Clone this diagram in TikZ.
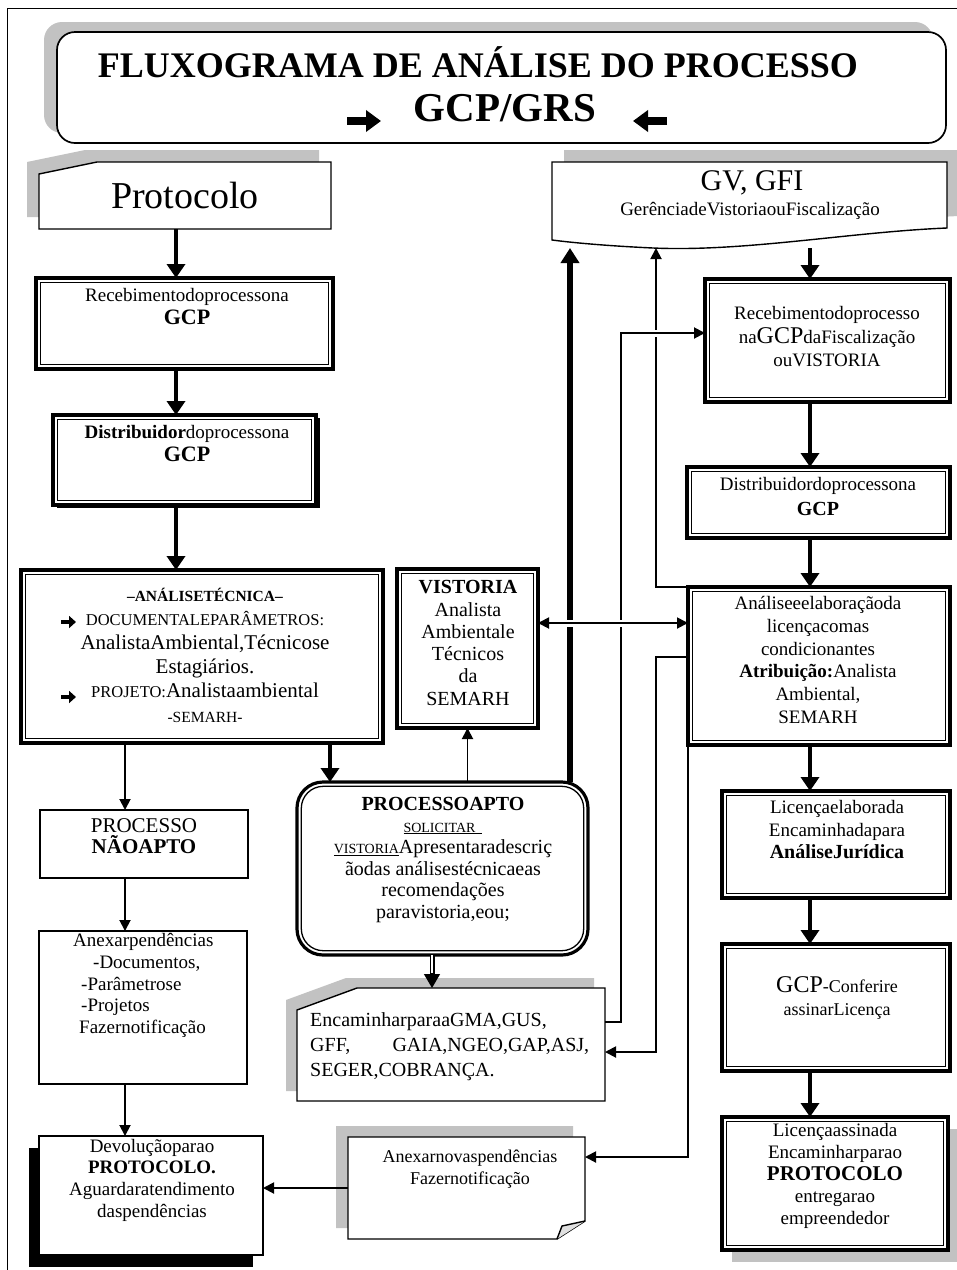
\documentclass[tikz,border=0pt]{standalone}
\usepackage{fontspec}
\setmainfont{Liberation Serif}
\usetikzlibrary{positioning,calc,arrows.meta,shadows}
\definecolor{shade}{gray}{0.76}
\tikzset{
  area/.style    = {inner sep=0pt, outer sep=0pt},
  card/.style    = {line width=1.4pt, fill=white},
  tbox/.style    = {draw, line width=1.7pt, fill=white, rounded corners=18pt,
                    inner sep=0pt, outer sep=0pt},
  sbox/.style    = {draw, line width=1.7pt, fill=white, inner sep=0pt, outer sep=0pt},
  dbox/.style    = {draw, line width=3.2pt, fill=white, inner sep=0pt, outer sep=0pt,
                    path picture={\draw[line width=1.3pt]
                      ([shift={(4.3pt,-4.3pt)}]path picture bounding box.north west) rectangle
                      ([shift={(-4.3pt,4.3pt)}]path picture bounding box.south east);}},
  rbox/.style    = {draw, line width=3.2pt, fill=white, inner sep=0pt, outer sep=0pt,
                    rounded corners=26pt,
                    path picture={\draw[line width=1.3pt, rounded corners=22pt]
                      ([shift={(4.3pt,-4.3pt)}]path picture bounding box.north west) rectangle
                      ([shift={(-4.3pt,4.3pt)}]path picture bounding box.south east);}},
  shd/.style 2 args  = {drop shadow={shadow xshift=#1, shadow yshift=#2,
                        fill=shade, opacity=1}},
  bshd/.style 2 args = {drop shadow={shadow xshift=#1, shadow yshift=#2,
                        fill=black, opacity=1}},
  txt/.style     = {align=center, inner sep=0pt, font=\fontsize{19}{23}\selectfont},
  thk/.style     = {line width=4.6pt, >={Triangle[length=14pt,width=18pt]}, ->},
  thn/.style     = {line width=1.9pt, >={Triangle[length=11pt,width=11pt]}, ->},
  both/.style    = {line width=1.9pt, >={Triangle[length=11pt,width=11pt]}, <->},
  bar/.style     = {line width=5.6pt, >={Triangle[length=15pt,width=18pt]}, ->},
  dbl/.style     = {double, double distance=2.4pt, line width=1.3pt},
  tipo/.style    = {line width=1.3pt, >={Triangle[length=14pt,width=16pt]}, ->},
  hop/.style     = {preaction={draw=white, line width=7pt, -, shorten <=3pt, shorten >=3pt}},
  fat/.style     = {line width=8pt, >={Triangle[length=15pt,width=21pt]}, ->},
  sarr/.style    = {line width=3.4pt, >={Triangle[length=7pt,width=12pt]}, ->},
}

\begin{document}
\begin{tikzpicture}[x=1pt, y=-1pt]
  \useasboundingbox (0,0) rectangle (957,1270);
  \draw[line width=1.6pt] (7.5,1270) -- (7.5,8.5) -- (957,8.5);

  % heading
  \node[tbox, shd={-13pt}{10pt}, minimum width=889pt, minimum height=111pt] (ttl) at (501.5,87.5) {};
  \node[anchor=base, font=\fontsize{36}{40}\selectfont\bfseries] (ttl-a) at (478,77) {FLUXOGRAMA DE ANÁLISE DO PROCESSO};
  \node[anchor=base, font=\fontsize{41}{44}\selectfont\bfseries] (ttl-b) at (505,121) {GCP/GRS};
  \draw[fat] (347,121) -- (381,121);
  \draw[fat] (667,121) -- (633,121);

  % left column
  \filldraw[card, shd={-12pt}{12pt}] (39,174) -- (97,162) -- (331,162) -- (331,229) -- (39,229) -- cycle;
  \node[area, minimum width=292pt, minimum height=67pt, font=\fontsize{38}{40}\selectfont] (proto) at (185,195.5) {Protocolo};
  \node[dbox, minimum width=297pt, minimum height=91pt] (rec1) at (184.5,323.5) {};
  \node[txt] (l-rec1) at (187,307) {Recebimentodoprocessona\\{\fontsize{22}{23}\selectfont\textbf{GCP}}};
  \node[dbox, bshd={4pt}{-3pt}, minimum width=263pt, minimum height=90pt] (dist1) at (184.5,460) {};
  \node[txt] (l-dist1) at (187,444) {\textbf{Distribuidor}doprocessona\\{\fontsize{22}{23}\selectfont\textbf{GCP}}};
  \node[dbox, minimum width=362pt, minimum height=173pt] (ana) at (202,656.5) {};
  \node[txt, font=\fontsize{19}{24.2}\selectfont] (l-ana) at (205,655) {%
    {\fontsize{15.5}{24.2}\selectfont\textbf{–ANÁLISETÉCNICA–}}\\
    {\fontsize{16.5}{24.2}\selectfont DOCUMENTALEPARÂMETROS:}\\
    {\fontsize{21}{24.2}\selectfont AnalistaAmbiental,Técnicose}\\
    {\fontsize{21}{24.2}\selectfont Estagiários.}\\
    {\fontsize{16.5}{24.2}\selectfont PROJETO:}{\fontsize{21}{24.2}\selectfont Analistaambiental}\\
    {\fontsize{15.5}{24.2}\selectfont -SEMARH-}};
  \draw[sarr] (61,622) -- (76,622);
  \draw[sarr] (61,697) -- (76,697);
  \node[sbox, minimum width=208pt, minimum height=68pt] (nap) at (144,844) {};
  \node[txt, font=\fontsize{21}{21.5}\selectfont] (l-nap) at (144,836) {PROCESSO\\\textbf{NÃOAPTO}};
  \node[sbox, minimum width=208pt, minimum height=153pt] (pend) at (143,1007.5) {};
  \node[txt, align=left, anchor=west, font=\fontsize{19}{21.8}\selectfont] (l-pend) at (73,985.5) {Anexarpendências\\\hspace*{20pt}-Documentos,\\\hspace*{8pt}-Parâmetrose\\\hspace*{8pt}-Projetos\\\hspace*{6pt}Fazernotificação};
  \node[sbox, bshd={-10pt}{-12pt}, minimum width=224pt, minimum height=119pt] (dev) at (151,1195.5) {};
  \node[txt, font=\fontsize{19}{21.7}\selectfont] (l-dev) at (152,1180) {Devoluçãoparao\\\textbf{PROTOCOLO.}\\Aguardaratendimento\\daspendências};

  % middle
  \node[dbox, minimum width=141pt, minimum height=159pt] (vis) at (467.5,648.5) {};
  \node[txt, font=\fontsize{20}{22.3}\selectfont] (l-vis) at (468,643) {\textbf{VISTORIA}\\Analista\\Ambientale\\Técnicos\\da\\SEMARH};
  \node[rbox, minimum width=291pt, minimum height=173pt] (apto) at (442.5,868.5) {};
  \node[txt, font=\fontsize{20}{21.6}\selectfont] (l-apto) at (443,860) {\textbf{PROCESSOAPTO}\\
    {\fontsize{14}{21.6}\selectfont\underline{SOLICITAR\ \ }}\\
    {\fontsize{14}{21.6}\selectfont\underline{VISTORIA}}Apresentaradescriç\\
    ãodas análisestécnicaeas\\recomendações\\paravistoria,eou;};
  \filldraw[card, shd={-11pt}{10pt}] (297,1010) -- (357,988) -- (605,988) -- (605,1101) -- (297,1101) -- cycle;
  \node[area, minimum width=308pt, minimum height=113pt] (enc) at (451,1044.5) {};
  \node[txt, align=left, anchor=west, font=\fontsize{20}{25}\selectfont] (l-enc) at (310,1047) {EncaminharparaaGMA,GUS,\\\makebox[279pt][s]{GFF,\hfill GAIA,NGEO,GAP,ASJ,}\\SEGER,COBRANÇA.};
  \filldraw[card, shd={-12pt}{11pt}] (348,1137) -- (585,1137) -- (585,1221) -- (557,1239) -- (348,1239) -- cycle;
  \filldraw[card, fill=black!12] (585,1221) -- (562,1226) -- (557,1239);
  \node[area, minimum width=237pt, minimum height=102pt] (nova) at (466.5,1188) {};
  \node[txt, font=\fontsize{18}{22}\selectfont] (l-nova) at (470,1169) {Anexarnovaspendências\\Fazernotificação};

  % right column
  \filldraw[card, shd={12pt}{12pt}] (552,162) -- (947,162) -- (947,228) .. controls (850,232) and (745,252) .. (653,248) .. controls (610,246) and (575,243) .. (552,240) -- cycle;
  \node[area, minimum width=395pt, minimum height=86pt] (gv) at (749.5,205) {};
  \node[inner sep=0pt, font=\fontsize{30}{32}\selectfont] (l-gv) at (752,183) {GV, GFI};
  \node[txt] (l-gv2) at (750,211) {GerênciadeVistoriaouFiscalização};
  \node[dbox, minimum width=245pt, minimum height=123pt] (rec2) at (827.5,340.5) {};
  \node[txt, font=\fontsize{19}{23.5}\selectfont] (l-rec2) at (827,337) {Recebimentodoprocesso\\na{\fontsize{24}{23.5}\selectfont GCP}daFiscalização\\ouVISTORIA};
  \node[dbox, minimum width=263pt, minimum height=71pt] (dist2) at (818.5,502.5) {};
  \node[txt, font=\fontsize{19}{25}\selectfont] (l-dist2) at (818,496) {Distribuidordoprocessona\\{\fontsize{20}{25}\selectfont\textbf{GCP}}};
  \node[dbox, minimum width=262pt, minimum height=158pt] (anr) at (819,666) {};
  \node[txt, font=\fontsize{19}{22.8}\selectfont] (l-anr) at (818,660) {Análiseeelaboraçãoda\\licençacomas\\condicionantes\\\textbf{Atribuição:}Analista\\Ambiental,\\SEMARH};
  \node[dbox, minimum width=228pt, minimum height=107pt] (lic1) at (836,844.5) {};
  \node[txt, font=\fontsize{19}{22.5}\selectfont] (l-lic1) at (837,830) {Licençaelaborada\\Encaminhadapara\\{\fontsize{20}{22.5}\selectfont\textbf{AnáliseJurídica}}};
  \node[dbox, minimum width=228pt, minimum height=127pt] (gcp) at (836,1007.5) {};
  \node[txt, font=\fontsize{18}{23}\selectfont] (l-gcp) at (837,998) {{\fontsize{24}{23}\selectfont GCP}-Conferire\\assinarLicença};
  \node[dbox, shd={10pt}{-12pt}, minimum width=226pt, minimum height=133pt] (lic2) at (835,1183.5) {};
  \node[txt, font=\fontsize{19}{22}\selectfont] (l-lic2) at (835,1176) {Licençaassinada\\Encaminharparao\\{\fontsize{21}{22}\selectfont\textbf{PROTOCOLO}}\\entregarao\\empreendedor};

  % flow
  \coordinate (xl) at (176,0);
  \coordinate (xn) at (125,0);
  \coordinate (xp) at (330,0);
  \coordinate (xe) at (432,0);
  \coordinate (xg) at (570,0);
  \coordinate (xr) at (621,0);
  \coordinate (xf) at (656,0);
  \coordinate (xc) at (810,0);
  \draw[thk] (proto.south -| xl) -- (rec1.north -| xl);
  \draw[thk] (rec1.south -| xl) -- (dist1.north -| xl);
  \draw[thk] (dist1.south -| xl) -- (ana.north -| xl);
  \draw[thn] (ana.south -| xn) -- (nap.north -| xn);
  \draw[thn] (nap.south -| xn) -- (pend.north -| xn);
  \draw[thn] (pend.south -| xn) -- (dev.north -| xn);
  \draw[thk] (ana.south -| xp) -- (apto.north -| xp);
  \draw[thn] (apto.north -| vis.south) -- (vis.south);
  \coordinate (et) at (enc.north -| xe);
  \draw[dbl, shorten >=13pt] (apto.south -| xe) -- (et);
  \draw[tipo] ([yshift=15pt]et) -- (et);
  \draw[thn] (nova.west) -- (nova.west -| dev.east);

  \draw[bar] (apto.north -| xg) -- (gv.south -| xg);
  \draw[thn] (anr.north west) -| (gv.south -| xf);
  \coordinate (e1) at ([yshift=22.5pt]enc.east);
  \coordinate (e2) at ([yshift=-7.5pt]enc.east);
  \coordinate (r1) at ([yshift=7.5pt]rec2.west);
  \coordinate (a1) at ([yshift=9pt]anr.west);
  \coordinate (n1) at ([yshift=31pt]nova.east);
  \coordinate (v1) at ([yshift=25.5pt]vis.east);
  \draw[thn, hop] (e1) -| (xr |- r1) -- (r1);
  \draw[thn] (a1) -| (xf |- e2) -- (e2);
  \draw[thn] (anr.south west) |- (n1);
  \draw[both, hop] (v1) -- (v1 -| anr.west);

  \draw[thk] (gv.south -| xc) -- (rec2.north -| xc);
  \draw[thk] (rec2.south -| xc) -- (dist2.north -| xc);
  \draw[thk] (dist2.south -| xc) -- (anr.north -| xc);
  \draw[thk] (anr.south -| xc) -- (lic1.north -| xc);
  \draw[thk] (lic1.south -| xc) -- (gcp.north -| xc);
  \draw[thk] (gcp.south -| xc) -- (lic2.north -| xc);
\end{tikzpicture}
\end{document}
